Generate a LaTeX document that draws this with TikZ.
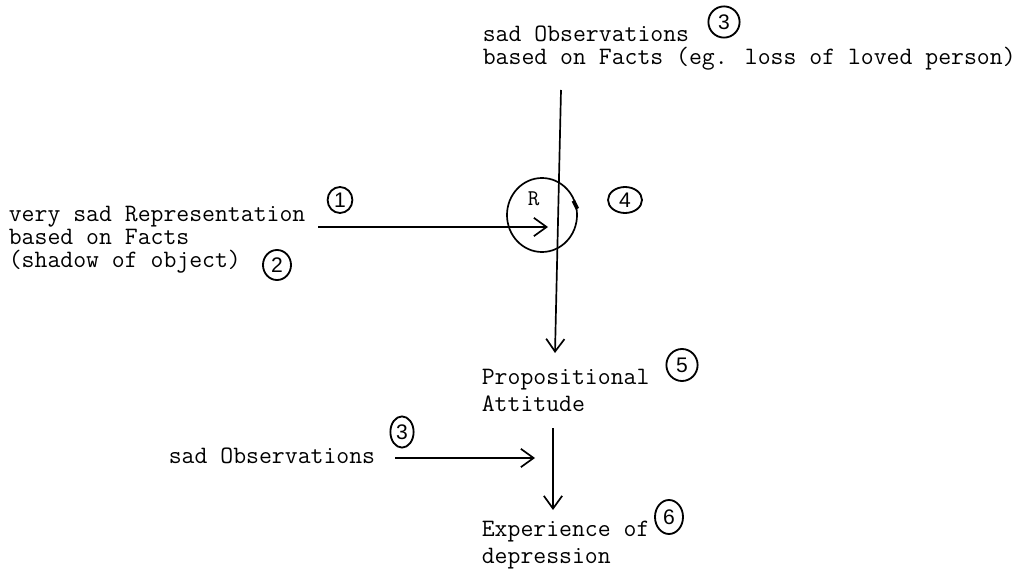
\documentclass[tikz,border=0pt]{standalone}
\usepackage{fontspec}
\newfontfamily\numfont{Liberation Sans}
\usetikzlibrary{arrows.meta,shapes.geometric}

\begin{document}
\begin{tikzpicture}[x=0.025cm, y=-0.025cm, line width=1.2pt,
  txt/.style={anchor=base west, inner sep=0pt, align=left, font=\ttfamily\fontsize{17.8}{16.4}\selectfont},
  wide/.style={txt, font=\ttfamily\fontsize{17.8}{19.2}\selectfont},
  num/.style={draw, ellipse, inner sep=0pt, line width=1.3pt, font=\numfont\fontsize{15}{15}\selectfont},
  arr/.style={-{Straight Barb[length=9pt,width=13pt]}}]
\useasboundingbox (0,0) rectangle (1028,571);

\node[txt] (obs) at (482,65) {sad Observations\\based on Facts (eg. loss of loved person)};
\node[txt] (rep) at (8,268) {very sad Representation\\based on Facts\\(shadow of object)};
\node[wide] (prop) at (481,411) {Propositional\\Attitude};
\node[txt] (obstwo) at (168,463) {sad Observations};
\node[wide] (exp) at (481,563) {Experience of\\depression};

\node[draw, ellipse, minimum width=1.75cm, minimum height=1.85cm] (ring) at (542,215) {};
\node[txt, font=\ttfamily\fontsize{16}{16}\selectfont] (rlabel) at (527,206) {R};
\draw[line width=2.6pt] (ring.10) -- ++(-4,-8);

\node[num, minimum width=0.78cm, minimum height=0.78cm] (n3a) at (724,22) {3};
\node[num, minimum width=0.62cm, minimum height=0.65cm] (n1) at (340,200) {1};
\node[num, minimum width=0.7cm, minimum height=0.75cm] (n2) at (277,265) {2};
\node[num, minimum width=0.85cm, minimum height=0.65cm] (n4) at (625,200) {4};
\node[num, minimum width=0.78cm, minimum height=0.8cm] (n5) at (682,365) {5};
\node[num, minimum width=0.58cm, minimum height=0.78cm] (n3b) at (402,432) {3};
\node[num, minimum width=0.7cm, minimum height=0.85cm] (n6) at (669,517) {6};

\coordinate (topend) at (561,90);
\coordinate (downtip) at (555,353);
\coordinate (repout) at (318,227);
\coordinate (repin) at (548,227);
\coordinate (proptail) at (553,428);
\coordinate (exptip) at (553,510);
\coordinate (obsout) at (395,458);
\coordinate (obsin) at (535,458);

\draw[arr] (topend) -- (downtip);
\draw[arr] (repout) -- (repin);
\draw[arr] (proptail) -- (exptip);
\draw[arr] (obsout) -- (obsin);
\end{tikzpicture}
\end{document}
